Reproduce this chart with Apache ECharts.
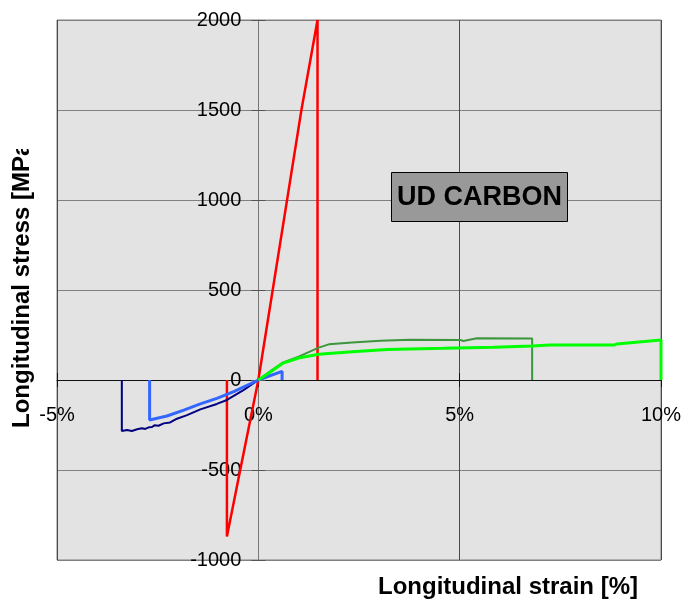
<!DOCTYPE html>
<html>
<head>
<meta charset="utf-8">
<script src="https://cdn.jsdelivr.net/npm/echarts@6/dist/echarts.min.js"></script>
<style>
  html, body { margin: 0; padding: 0; background: #fff; }
  #chart { width: 682px; height: 599px; }
</style>
</head>
<body>
<div id="chart"></div>
<script>
// Axis ranges and tick steps
const xTicks = [-5, 0, 5, 10];          // strain [%]
const yTicks = [-1000, -500, 0, 500, 1000, 1500, 2000]; // stress [MPa]

// Stress-strain curves: [strain %, stress MPa]
const redCurve = [
  [-0.78, 0], [-0.78, -870], [-0.45, -500], [0, 0],
  [1.07, 1500], [1.47, 2000], [1.47, 0]
];
const navyCurve = [
  [-3.39, 0], [-3.39, -283], [-3.26, -278], [-3.14, -283], [-3.01, -274],
  [-2.89, -268], [-2.81, -272], [-2.72, -263], [-2.64, -261], [-2.58, -252],
  [-2.48, -254], [-2.35, -241], [-2.19, -236], [-2.02, -215], [-1.77, -195],
  [-1.44, -163], [-1.03, -133], [-0.78, -111], [-0.37, -56], [0, 0]
];
const blueCurve = [
  [-2.70, 0], [-2.70, -222], [-2.27, -200], [-1.85, -167], [-1.44, -133],
  [-1.03, -102], [-0.61, -65], [0, 0], [0.59, 48], [0.59, 0]
];
const darkGreenCurve = [
  [0, 0], [0.3, 50], [0.6, 96], [1.0, 130], [1.5, 180], [1.75, 198],
  [2.33, 209], [3.03, 218], [3.77, 224], [5.02, 222], [5.09, 217],
  [5.43, 232], [6.80, 230], [6.80, 0]
];
const greenCurve = [
  [0, 0], [0.3, 45], [0.6, 92], [1.0, 122], [1.5, 143], [2.33, 157],
  [3.2, 170], [4.6, 176], [5.84, 182], [6.8, 189], [7.25, 194],
  [8.85, 195], [8.9, 200], [10.0, 222], [10.0, 0]
];

const FONT = '"Liberation Sans", Arial, sans-serif';
const xMin = xTicks[0], xMax = xTicks[xTicks.length - 1], xStep = xTicks[1] - xTicks[0];
const yMin = yTicks[0], yMax = yTicks[yTicks.length - 1], yStep = yTicks[1] - yTicks[0];

// Plot box
const GRID = { left: 57, top: 20, width: 604, height: 540 };
// Move both axes so they cross at the origin
const xAxisOffset = -GRID.height * (0 - yMin) / (yMax - yMin);
const yAxisOffset = -GRID.width * (0 - xMin) / (xMax - xMin);

function lineSeries(data, color, width) {
  return {
    type: 'line', data: data, showSymbol: false, symbol: 'none',
    lineStyle: { color: color, width: width }, itemStyle: { color: color },
    animation: false, clip: true
  };
}

const chart = echarts.init(document.getElementById('chart'), null, { renderer: 'canvas' });
chart.setOption({
  animation: false,
  grid: Object.assign({
    containLabel: false, outerBoundsMode: 'none',
    show: true, backgroundColor: '#e3e3e3', borderColor: '#808080', borderWidth: 1
  }, GRID),
  xAxis: [
    {
      type: 'value', min: xMin, max: xMax, interval: xStep, position: 'bottom',
      offset: xAxisOffset,
      axisLine: { onZero: false, lineStyle: { color: '#111', width: 1 } },
      axisTick: { show: true, length: 7, lineStyle: { color: '#111' } },
      axisLabel: {
        margin: 25, fontSize: 20, color: '#000', fontFamily: FONT,
        formatter: v => v + '%'
      },
      splitLine: { show: true, lineStyle: { color: '#4a4a4a', width: 1 } }
    },
    {
      type: 'value', min: xMin, max: xMax, interval: xStep, position: 'bottom',
      offset: xAxisOffset,
      axisLine: { show: false, onZero: false },
      axisTick: { show: true, inside: true, length: 7, lineStyle: { color: '#111' } },
      axisLabel: { show: false },
      splitLine: { show: false }
    }
  ],
  yAxis: [
    {
      type: 'value', min: yMin, max: yMax, interval: yStep, position: 'left',
      offset: yAxisOffset,
      axisLine: { onZero: false, lineStyle: { color: '#777', width: 1 } },
      axisTick: { show: true, length: 7, lineStyle: { color: '#555' } },
      axisLabel: {
        margin: 17, fontSize: 20, color: '#000', fontFamily: FONT,
        formatter: v => String(v)
      },
      splitLine: { show: true, lineStyle: { color: '#808080', width: 1 } }
    },
    {
      type: 'value', min: yMin, max: yMax, interval: yStep, position: 'left',
      offset: yAxisOffset,
      axisLine: { show: false, onZero: false },
      axisTick: { show: true, inside: true, length: 7, lineStyle: { color: '#555' } },
      axisLabel: { show: false },
      splitLine: { show: false }
    }
  ],
  series: [
    lineSeries(redCurve, '#ff0000', 2.5),
    lineSeries(navyCurve, '#000080', 2),
    lineSeries(blueCurve, '#3366ff', 3),
    lineSeries(darkGreenCurve, '#3c963c', 2),
    lineSeries(greenCurve, '#00ff00', 3)
  ],
  graphic: [
    {
      type: 'text', x: 378, y: 587, z: 10,
      style: {
        text: 'Longitudinal strain [%]', fill: '#000',
        font: 'bold 24px ' + FONT, textAlign: 'left', textVerticalAlign: 'middle'
      }
    },
    {
      type: 'text', x: 22, y: 428, rotation: Math.PI / 2, z: 10,
      style: {
        text: 'Longitudinal stress [MPa]', fill: '#000',
        font: 'bold 24px ' + FONT, textAlign: 'left', textVerticalAlign: 'middle'
      }
    },
    {
      type: 'rect', z: 11, shape: { x: 0, y: 0, width: 45, height: 149 },
      style: { fill: '#ffffff' }
    },
    {
      type: 'rect', z: 12, shape: { x: 391.5, y: 172.5, width: 176, height: 49 },
      style: { fill: '#999999', stroke: '#000', lineWidth: 1 }
    },
    {
      type: 'text', x: 479.5, y: 198, z: 13,
      style: {
        text: 'UD CARBON', fill: '#000', font: 'bold 27px ' + FONT,
        textAlign: 'center', textVerticalAlign: 'middle'
      }
    }
  ]
});
</script>
</body>
</html>
